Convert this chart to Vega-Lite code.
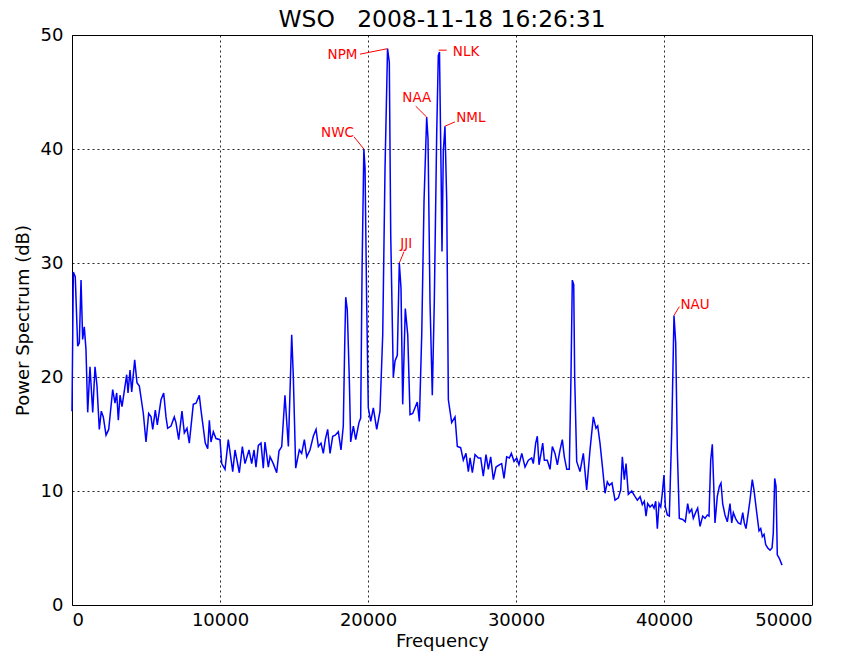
{
  "$schema": "https://vega.github.io/schema/vega-lite/v6.json",
  "width": 740,
  "height": 570,
  "autosize": {"type": "none"},
  "padding": {"left": 72, "top": 35, "right": 32, "bottom": 48},
  "background": "white",
  "title": {"text": "WSO\u00a0\u00a0\u00a02008-11-18 16:26:31", "font": "DejaVu Sans", "fontSize": 23.4, "fontWeight": "normal", "color": "black", "offset": -6, "anchor": "middle"},
  "config": {
    "view": {"stroke": "black", "strokeWidth": 1},
    "axis": {
      "labelFont": "DejaVu Sans", "labelFontSize": 18, "labelColor": "black",
      "titleFont": "DejaVu Sans", "titleFontSize": 18, "titleFontWeight": "normal", "titleColor": "black",
      "grid": true, "gridColor": "black", "gridDash": [2, 3], "gridOpacity": 0.85, "gridWidth": 1,
      "domain": false, "ticks": false
    }
  },
  "datasets": {
    "psd": [
      {"freq": 0, "db": 17.0}, {"freq": 90, "db": 29.2}, {"freq": 220, "db": 28.8}, {"freq": 385, "db": 22.7},
      {"freq": 495, "db": 23.0}, {"freq": 610, "db": 28.5}, {"freq": 720, "db": 23.3}, {"freq": 830, "db": 24.4},
      {"freq": 945, "db": 22.4}, {"freq": 1060, "db": 16.9}, {"freq": 1215, "db": 20.9}, {"freq": 1400, "db": 16.9},
      {"freq": 1555, "db": 20.9}, {"freq": 1690, "db": 19.2}, {"freq": 1845, "db": 15.4}, {"freq": 1980, "db": 17.0},
      {"freq": 2115, "db": 16.5}, {"freq": 2300, "db": 14.9}, {"freq": 2480, "db": 15.4}, {"freq": 2750, "db": 18.9},
      {"freq": 2905, "db": 17.7}, {"freq": 3020, "db": 18.6}, {"freq": 3130, "db": 16.2}, {"freq": 3245, "db": 18.4},
      {"freq": 3380, "db": 17.4}, {"freq": 3560, "db": 19.0}, {"freq": 3695, "db": 20.2}, {"freq": 3785, "db": 18.6},
      {"freq": 3920, "db": 20.6}, {"freq": 4035, "db": 18.7}, {"freq": 4235, "db": 21.5}, {"freq": 4390, "db": 19.5},
      {"freq": 4550, "db": 19.2}, {"freq": 4820, "db": 16.8}, {"freq": 5000, "db": 14.3}, {"freq": 5180, "db": 16.8},
      {"freq": 5340, "db": 16.5}, {"freq": 5455, "db": 15.4}, {"freq": 5630, "db": 17.1}, {"freq": 5765, "db": 15.8},
      {"freq": 6015, "db": 18.0}, {"freq": 6195, "db": 18.6}, {"freq": 6350, "db": 16.5}, {"freq": 6465, "db": 15.5},
      {"freq": 6690, "db": 15.7}, {"freq": 6910, "db": 16.5}, {"freq": 7025, "db": 16.0}, {"freq": 7210, "db": 14.5},
      {"freq": 7430, "db": 17.0}, {"freq": 7590, "db": 15.1}, {"freq": 7770, "db": 15.5}, {"freq": 7925, "db": 14.2},
      {"freq": 8195, "db": 17.6}, {"freq": 8380, "db": 17.7}, {"freq": 8600, "db": 18.4}, {"freq": 8715, "db": 17.1},
      {"freq": 9005, "db": 14.2}, {"freq": 9170, "db": 13.7}, {"freq": 9280, "db": 16.2}, {"freq": 9390, "db": 14.3},
      {"freq": 9550, "db": 15.2}, {"freq": 9730, "db": 14.6}, {"freq": 10000, "db": 14.5}, {"freq": 10115, "db": 12.4},
      {"freq": 10340, "db": 11.9}, {"freq": 10560, "db": 14.5}, {"freq": 10860, "db": 11.7}, {"freq": 11015, "db": 13.6},
      {"freq": 11305, "db": 11.6}, {"freq": 11510, "db": 13.9}, {"freq": 11690, "db": 12.4}, {"freq": 11960, "db": 13.6},
      {"freq": 12140, "db": 12.4}, {"freq": 12300, "db": 13.6}, {"freq": 12430, "db": 12.1}, {"freq": 12590, "db": 14.0},
      {"freq": 12770, "db": 14.2}, {"freq": 12925, "db": 12.0}, {"freq": 13040, "db": 14.3}, {"freq": 13265, "db": 12.1},
      {"freq": 13380, "db": 13.0}, {"freq": 13600, "db": 12.4}, {"freq": 13830, "db": 11.6}, {"freq": 13985, "db": 13.5},
      {"freq": 14170, "db": 13.9}, {"freq": 14390, "db": 18.4}, {"freq": 14620, "db": 13.9}, {"freq": 14845, "db": 23.7},
      {"freq": 14955, "db": 20.0}, {"freq": 15115, "db": 12.0}, {"freq": 15360, "db": 13.6}, {"freq": 15520, "db": 13.3},
      {"freq": 15700, "db": 14.5}, {"freq": 15860, "db": 13.0}, {"freq": 16080, "db": 13.6}, {"freq": 16305, "db": 14.8},
      {"freq": 16490, "db": 15.4}, {"freq": 16645, "db": 13.9}, {"freq": 16825, "db": 14.2}, {"freq": 16980, "db": 13.3},
      {"freq": 17115, "db": 14.5}, {"freq": 17275, "db": 15.4}, {"freq": 17435, "db": 13.3}, {"freq": 17615, "db": 14.8},
      {"freq": 17790, "db": 14.9}, {"freq": 17995, "db": 15.2}, {"freq": 18175, "db": 13.6}, {"freq": 18330, "db": 15.7},
      {"freq": 18425, "db": 22.7}, {"freq": 18495, "db": 27.0}, {"freq": 18600, "db": 25.9}, {"freq": 18740, "db": 19.7},
      {"freq": 18830, "db": 14.3}, {"freq": 19010, "db": 15.7}, {"freq": 19170, "db": 14.5}, {"freq": 19390, "db": 16.0},
      {"freq": 19505, "db": 16.4}, {"freq": 19600, "db": 29.5}, {"freq": 19720, "db": 40.0}, {"freq": 19800, "db": 38.3},
      {"freq": 19910, "db": 26.6}, {"freq": 20020, "db": 17.3}, {"freq": 20185, "db": 16.1}, {"freq": 20360, "db": 17.3},
      {"freq": 20590, "db": 15.4}, {"freq": 20810, "db": 17.0}, {"freq": 20995, "db": 23.7}, {"freq": 21150, "db": 38.3},
      {"freq": 21320, "db": 48.8}, {"freq": 21440, "db": 47.6}, {"freq": 21535, "db": 32.5}, {"freq": 21710, "db": 20.0},
      {"freq": 21825, "db": 21.4}, {"freq": 21980, "db": 21.9}, {"freq": 22115, "db": 30.0}, {"freq": 22230, "db": 27.8},
      {"freq": 22345, "db": 17.6}, {"freq": 22520, "db": 26.0}, {"freq": 22685, "db": 23.7}, {"freq": 22840, "db": 16.7},
      {"freq": 23020, "db": 16.8}, {"freq": 23175, "db": 17.3}, {"freq": 23330, "db": 17.8}, {"freq": 23470, "db": 16.1},
      {"freq": 23630, "db": 23.7}, {"freq": 23785, "db": 35.4}, {"freq": 23965, "db": 42.8}, {"freq": 24055, "db": 40.9},
      {"freq": 24190, "db": 26.6}, {"freq": 24345, "db": 18.4}, {"freq": 24480, "db": 26.6}, {"freq": 24640, "db": 41.2},
      {"freq": 24750, "db": 48.2}, {"freq": 24830, "db": 48.5}, {"freq": 24935, "db": 38.3}, {"freq": 25000, "db": 31.0},
      {"freq": 25090, "db": 39.8}, {"freq": 25200, "db": 42.0}, {"freq": 25320, "db": 35.4}, {"freq": 25430, "db": 18.0},
      {"freq": 25655, "db": 16.0}, {"freq": 25880, "db": 16.5}, {"freq": 26035, "db": 13.9}, {"freq": 26260, "db": 13.8},
      {"freq": 26440, "db": 12.7}, {"freq": 26620, "db": 13.3}, {"freq": 26780, "db": 11.7}, {"freq": 26895, "db": 12.9},
      {"freq": 27050, "db": 11.6}, {"freq": 27230, "db": 13.2}, {"freq": 27455, "db": 12.9}, {"freq": 27615, "db": 12.9},
      {"freq": 27790, "db": 11.3}, {"freq": 27975, "db": 13.2}, {"freq": 28130, "db": 11.9}, {"freq": 28290, "db": 13.0},
      {"freq": 28470, "db": 11.0}, {"freq": 28650, "db": 12.1}, {"freq": 28870, "db": 12.3}, {"freq": 29030, "db": 12.4},
      {"freq": 29190, "db": 11.1}, {"freq": 29370, "db": 13.0}, {"freq": 29550, "db": 12.9}, {"freq": 29685, "db": 13.3},
      {"freq": 29865, "db": 12.6}, {"freq": 30045, "db": 12.9}, {"freq": 30200, "db": 12.3}, {"freq": 30390, "db": 13.3},
      {"freq": 30610, "db": 12.1}, {"freq": 30835, "db": 12.7}, {"freq": 31060, "db": 12.9}, {"freq": 31170, "db": 12.4},
      {"freq": 31330, "db": 14.2}, {"freq": 31440, "db": 14.8}, {"freq": 31555, "db": 12.3}, {"freq": 31690, "db": 13.3},
      {"freq": 31805, "db": 14.2}, {"freq": 31915, "db": 12.7}, {"freq": 32115, "db": 12.7}, {"freq": 32300, "db": 11.9},
      {"freq": 32455, "db": 13.9}, {"freq": 32635, "db": 13.3}, {"freq": 32795, "db": 12.3}, {"freq": 32975, "db": 13.6},
      {"freq": 33130, "db": 14.5}, {"freq": 33265, "db": 13.0}, {"freq": 33430, "db": 11.9}, {"freq": 33600, "db": 11.9},
      {"freq": 33715, "db": 20.0}, {"freq": 33805, "db": 28.5}, {"freq": 33900, "db": 28.1}, {"freq": 33965, "db": 20.0},
      {"freq": 34100, "db": 12.6}, {"freq": 34325, "db": 11.7}, {"freq": 34550, "db": 13.3}, {"freq": 34775, "db": 10.1},
      {"freq": 35000, "db": 13.6}, {"freq": 35225, "db": 16.5}, {"freq": 35405, "db": 15.5}, {"freq": 35520, "db": 15.7},
      {"freq": 35675, "db": 14.2}, {"freq": 35850, "db": 12.0}, {"freq": 36015, "db": 9.8}, {"freq": 36170, "db": 10.8},
      {"freq": 36305, "db": 10.5}, {"freq": 36485, "db": 10.7}, {"freq": 36690, "db": 9.2}, {"freq": 36915, "db": 9.4},
      {"freq": 37075, "db": 10.1}, {"freq": 37185, "db": 13.0}, {"freq": 37320, "db": 11.0}, {"freq": 37435, "db": 12.4},
      {"freq": 37590, "db": 9.7}, {"freq": 37820, "db": 10.0}, {"freq": 38045, "db": 9.5}, {"freq": 38200, "db": 9.2},
      {"freq": 38385, "db": 9.5}, {"freq": 38535, "db": 8.8}, {"freq": 38670, "db": 9.1}, {"freq": 38785, "db": 7.8},
      {"freq": 38900, "db": 8.9}, {"freq": 39055, "db": 8.6}, {"freq": 39210, "db": 8.8}, {"freq": 39325, "db": 8.5},
      {"freq": 39440, "db": 9.1}, {"freq": 39550, "db": 6.7}, {"freq": 39665, "db": 8.9}, {"freq": 39780, "db": 8.6},
      {"freq": 39885, "db": 9.8}, {"freq": 40000, "db": 11.4}, {"freq": 40090, "db": 8.6}, {"freq": 40225, "db": 7.9},
      {"freq": 40360, "db": 7.8}, {"freq": 40520, "db": 15.1}, {"freq": 40675, "db": 25.4}, {"freq": 40790, "db": 23.0},
      {"freq": 40900, "db": 13.6}, {"freq": 41035, "db": 7.6}, {"freq": 41265, "db": 7.5}, {"freq": 41440, "db": 7.3},
      {"freq": 41600, "db": 8.9}, {"freq": 41710, "db": 8.1}, {"freq": 41870, "db": 8.4}, {"freq": 41980, "db": 7.6},
      {"freq": 42165, "db": 8.2}, {"freq": 42275, "db": 8.5}, {"freq": 42435, "db": 6.9}, {"freq": 42615, "db": 7.8},
      {"freq": 42770, "db": 7.6}, {"freq": 42930, "db": 7.9}, {"freq": 43040, "db": 7.8}, {"freq": 43155, "db": 12.7},
      {"freq": 43265, "db": 14.1}, {"freq": 43330, "db": 11.6}, {"freq": 43445, "db": 7.2}, {"freq": 43600, "db": 9.5},
      {"freq": 43740, "db": 10.4}, {"freq": 43850, "db": 10.7}, {"freq": 43965, "db": 8.9}, {"freq": 44120, "db": 7.9},
      {"freq": 44280, "db": 7.3}, {"freq": 44460, "db": 8.9}, {"freq": 44575, "db": 7.2}, {"freq": 44685, "db": 8.1},
      {"freq": 44865, "db": 7.5}, {"freq": 45020, "db": 7.2}, {"freq": 45180, "db": 7.1}, {"freq": 45320, "db": 8.1},
      {"freq": 45425, "db": 7.2}, {"freq": 45540, "db": 6.7}, {"freq": 45695, "db": 8.1}, {"freq": 45810, "db": 9.2},
      {"freq": 45965, "db": 11.0}, {"freq": 46080, "db": 10.1}, {"freq": 46265, "db": 8.1}, {"freq": 46420, "db": 6.5},
      {"freq": 46535, "db": 6.7}, {"freq": 46645, "db": 6.0}, {"freq": 46760, "db": 6.2}, {"freq": 46870, "db": 5.3},
      {"freq": 47010, "db": 5.0}, {"freq": 47165, "db": 4.8}, {"freq": 47300, "db": 5.0}, {"freq": 47385, "db": 6.3},
      {"freq": 47480, "db": 11.1}, {"freq": 47570, "db": 10.4}, {"freq": 47655, "db": 4.4}, {"freq": 47790, "db": 4.1},
      {"freq": 47975, "db": 3.5}
    ],
    "ann": [
      {"station": "NWC", "freq": 19720, "db": 40.0, "lf": 19055, "ldb": 41.07, "tf": 17940, "tdb": 41.44},
      {"station": "NPM", "freq": 21320, "db": 48.8, "lf": 19460, "ldb": 48.32, "tf": 18278, "tdb": 48.23},
      {"station": "NAA", "freq": 23965, "db": 42.8, "lf": 23224, "ldb": 43.76, "tf": 23298, "tdb": 44.44},
      {"station": "NLK", "freq": 24780, "db": 48.67, "lf": 25318, "ldb": 48.67, "tf": 26623, "tdb": 48.49},
      {"station": "NML", "freq": 25200, "db": 42.0, "lf": 25879, "ldb": 42.38, "tf": 26947, "tdb": 42.68},
      {"station": "JJI", "freq": 22115, "db": 30.0, "lf": 22434, "ldb": 30.99, "tf": 22583, "tdb": 31.67},
      {"station": "NAU", "freq": 40675, "db": 25.4, "lf": 41035, "ldb": 26.17, "tf": 42097, "tdb": 26.32}
    ]
  },
  "layer": [
    {
      "data": {"name": "psd"},
      "mark": {"type": "line", "color": "#0000ff", "strokeWidth": 1.5},
      "encoding": {
        "x": {"field": "freq", "type": "quantitative", "scale": {"domain": [0, 50000], "nice": false},
              "axis": {"title": "Frequency", "values": [0, 10000, 20000, 30000, 40000, 50000], "format": "d", "labelPadding": 6, "titlePadding": 3}},
        "y": {"field": "db", "type": "quantitative", "scale": {"domain": [0, 50], "nice": false},
              "axis": {"title": "Power Spectrum (dB)", "values": [0, 10, 20, 30, 40, 50], "labelPadding": 9, "titlePadding": 8}}
      }
    },
    {
      "data": {"name": "ann"},
      "mark": {"type": "rule", "color": "#ff0000", "strokeWidth": 1},
      "encoding": {
        "x": {"field": "freq", "type": "quantitative"},
        "y": {"field": "db", "type": "quantitative"},
        "x2": {"field": "lf"},
        "y2": {"field": "ldb"}
      }
    },
    {
      "data": {"name": "ann"},
      "mark": {"type": "text", "color": "#ff0000", "font": "DejaVu Sans", "fontSize": 13.5, "align": "center", "baseline": "middle"},
      "encoding": {
        "x": {"field": "tf", "type": "quantitative"},
        "y": {"field": "tdb", "type": "quantitative"},
        "text": {"field": "station"}
      }
    }
  ]
}
